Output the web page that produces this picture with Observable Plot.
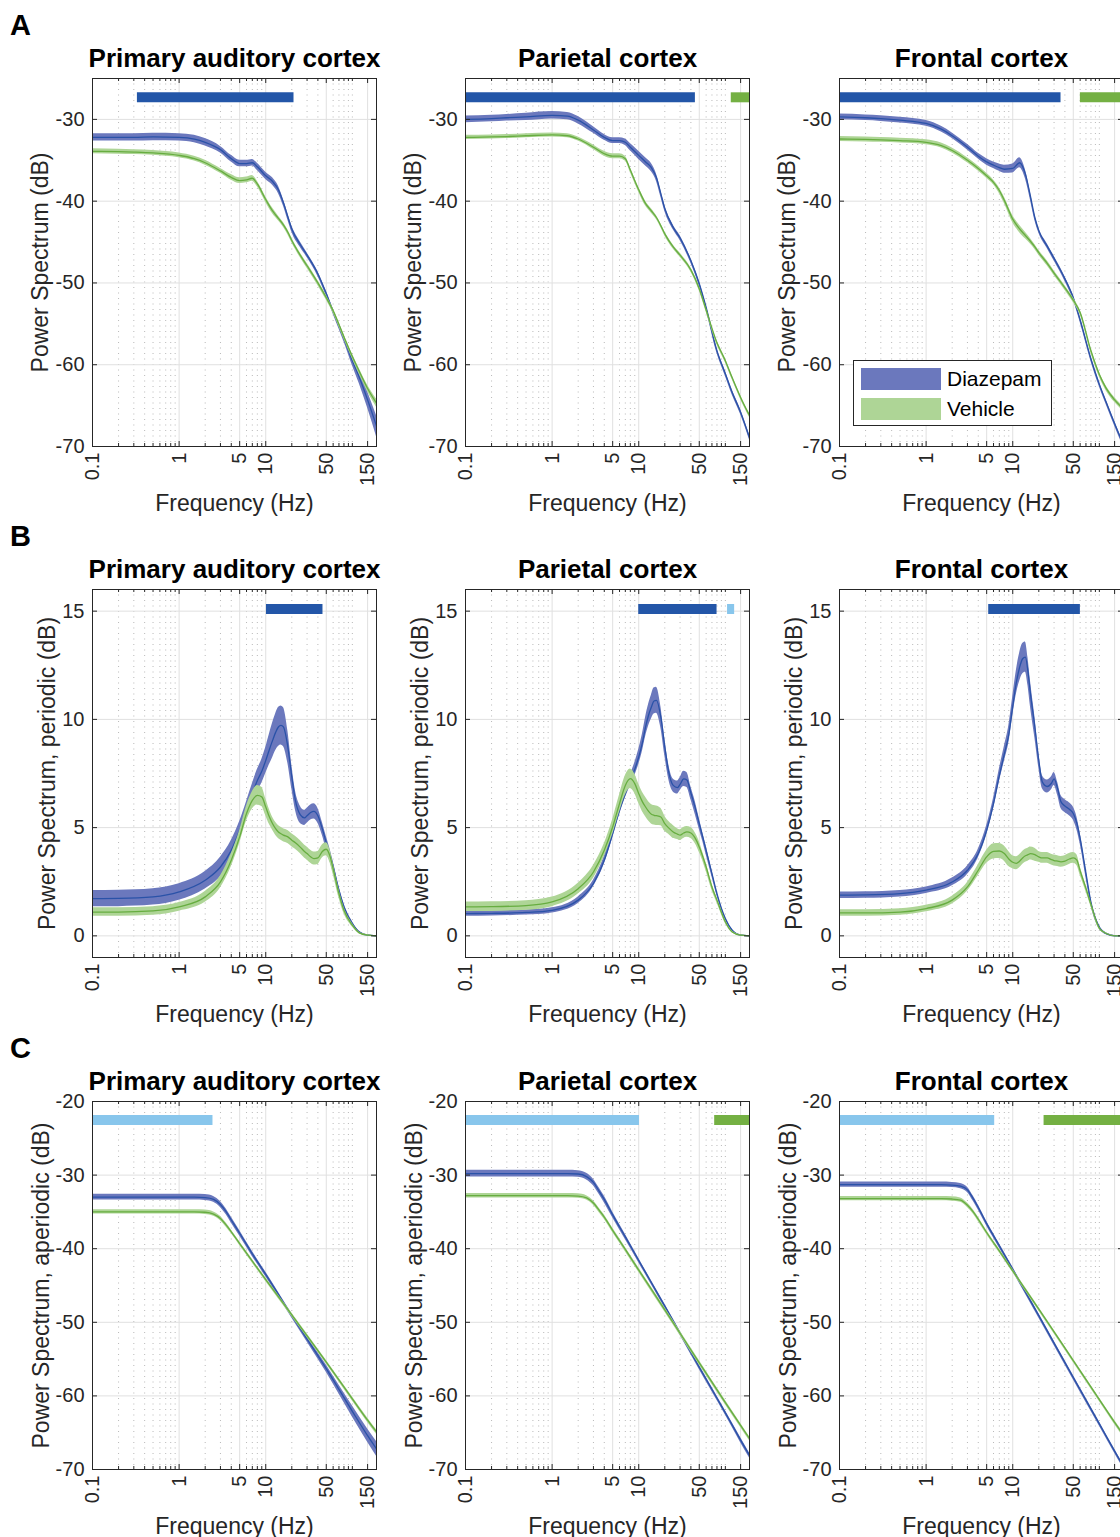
<!DOCTYPE html>
<html>
<head>
<meta charset="utf-8">
<script src="https://cdn.jsdelivr.net/npm/d3@7"></script>
<script src="https://cdn.jsdelivr.net/npm/@observablehq/plot@0.6"></script>
<style>
  body { margin: 0; background: #fff; }
  #root { position: relative; width: 1120px; height: 1537px; overflow: hidden; background: #fff;
          font-family: "Liberation Sans", Arial, Helvetica, sans-serif; color: #262626; }
  .panel { position: absolute; }
  .letter { position: absolute; font-weight: bold; font-size: 29px; line-height: 29px; color: #000; }
  .legend { position: absolute; background: #fff; border: 1px solid #262626; box-sizing: border-box; }
  .legend .patch { position: absolute; width: 80px; height: 22px; }
  .legend .lab { position: absolute; font-size: 21px; line-height: 22px; color: #000; }
</style>
</head>
<body>
<div id="root"></div>
<script>
// ---------- tick / category arrays ----------
const regions = ["Primary auditory cortex", "Parietal cortex", "Frontal cortex"];
const groups = ["Diazepam", "Vehicle"];
const xTicks = [0.1, 1, 5, 10, 50, 150];
const xTickLabels = ["0.1", "1", "5", "10", "50", "150"];
const xMinor = [0.2, 0.3, 0.4, 0.5, 0.6, 0.7, 0.8, 0.9, 2, 3, 4, 6, 7, 8, 9, 20, 30, 40, 60, 70, 80, 90, 100];
const yTicksTotal = [-70, -60, -50, -40, -30];
const yTicksPeriodic = [0, 5, 10, 15];
const yTicksAperiodic = [-70, -60, -50, -40, -30, -20];

// ---------- row A: total power spectrum ----------
const freqA = [0.1, 0.2, 0.3, 0.5, 1, 1.5, 2, 3, 4, 5, 6, 7, 8, 10, 12, 14, 16, 18, 20, 25, 30, 40, 50, 60, 80, 100, 120, 150, 190];
const audTotDiaz = [-32.2, -32.2, -32.2, -32.15, -32.2, -32.4, -32.8, -33.7, -34.8, -35.4, -35.4, -35.3, -35.8, -36.9, -37.6, -38.6, -40.2, -41.9, -43.4, -45.3, -46.6, -48.9, -51.3, -53.5, -56.8, -59.5, -61.5, -64.3, -67.5];
const audTotDiazSem = [0.45, 0.45, 0.45, 0.45, 0.45, 0.45, 0.45, 0.4, 0.4, 0.4, 0.4, 0.4, 0.45, 0.45, 0.45, 0.45, 0.4, 0.4, 0.4, 0.35, 0.3, 0.3, 0.3, 0.3, 0.4, 0.6, 0.8, 1.0, 1.3];
const audTotVeh = [-33.9, -33.95, -34.0, -34.1, -34.4, -34.8, -35.3, -36.3, -37.1, -37.5, -37.4, -37.2, -37.9, -39.8, -41.2, -42.1, -42.9, -43.8, -44.8, -46.6, -47.9, -50.0, -51.8, -53.4, -56.6, -59.0, -60.8, -62.9, -64.7];
const audTotVehSem = [0.3, 0.3, 0.3, 0.3, 0.3, 0.3, 0.3, 0.3, 0.35, 0.35, 0.35, 0.35, 0.35, 0.35, 0.35, 0.3, 0.3, 0.3, 0.3, 0.3, 0.3, 0.3, 0.3, 0.3, 0.3, 0.3, 0.35, 0.4, 0.5];
const parTotDiaz = [-30.0, -29.9, -29.8, -29.7, -29.5, -29.6, -30.1, -31.3, -32.2, -32.6, -32.6, -32.8, -33.4, -34.4, -35.2, -35.9, -37.1, -39.1, -40.9, -43.2, -44.5, -47.3, -50.1, -53.0, -58.3, -61.1, -63.4, -65.8, -68.9];
const parTotDiazSem = [0.4, 0.4, 0.4, 0.45, 0.45, 0.45, 0.45, 0.4, 0.35, 0.35, 0.35, 0.4, 0.45, 0.5, 0.5, 0.5, 0.45, 0.4, 0.35, 0.3, 0.3, 0.3, 0.3, 0.3, 0.3, 0.3, 0.3, 0.3, 0.3];
const parTotVeh = [-32.2, -32.15, -32.1, -32.0, -31.9, -32.0, -32.4, -33.4, -34.2, -34.5, -34.5, -34.8, -36.2, -38.6, -40.3, -41.2, -42.0, -43.0, -44.0, -45.6, -46.6, -48.4, -50.7, -53.3, -57.3, -59.5, -61.6, -64.0, -66.2];
const parTotVehSem = [0.25, 0.25, 0.25, 0.25, 0.25, 0.25, 0.25, 0.28, 0.3, 0.3, 0.3, 0.3, 0.3, 0.3, 0.3, 0.28, 0.25, 0.25, 0.25, 0.25, 0.25, 0.25, 0.25, 0.25, 0.25, 0.25, 0.25, 0.25, 0.25];
const froTotDiaz = [-29.7, -29.8, -29.9, -30.1, -30.5, -31.2, -32.0, -33.4, -34.5, -35.2, -35.6, -35.9, -36.1, -36.0, -35.3, -36.7, -39.4, -42.0, -43.6, -45.5, -47.0, -49.5, -51.8, -54.5, -59.3, -62.4, -64.6, -67.2, -69.8];
const froTotDiazSem = [0.35, 0.35, 0.35, 0.35, 0.35, 0.35, 0.35, 0.35, 0.35, 0.4, 0.4, 0.45, 0.5, 0.55, 0.6, 0.55, 0.45, 0.35, 0.3, 0.3, 0.3, 0.3, 0.3, 0.3, 0.3, 0.3, 0.3, 0.3, 0.3];
const froTotVeh = [-32.4, -32.45, -32.5, -32.6, -32.8, -33.2, -33.8, -35.0, -36.0, -36.9, -37.7, -38.7, -39.9, -42.2, -43.4, -44.2, -44.9, -45.6, -46.3, -47.6, -48.8, -50.6, -52.1, -53.6, -58.3, -61.2, -62.9, -64.3, -65.4];
const froTotVehSem = [0.3, 0.3, 0.3, 0.3, 0.3, 0.3, 0.3, 0.3, 0.3, 0.3, 0.3, 0.35, 0.4, 0.45, 0.45, 0.4, 0.35, 0.3, 0.3, 0.3, 0.3, 0.3, 0.3, 0.3, 0.3, 0.3, 0.3, 0.3, 0.3];

// ---------- row B: periodic component ----------
const freqB = [0.1, 0.2, 0.5, 1, 2, 3, 4, 5, 6, 7, 8, 9, 10, 11, 12, 13, 14, 15, 16, 18, 20, 22, 25, 28, 30, 33, 36, 40, 45, 50, 55, 60, 70, 80, 100, 120, 150, 190];
const audPerDiaz = [1.72, 1.73, 1.8, 2.03, 2.57, 3.18, 3.95, 4.88, 5.8, 6.57, 7.18, 7.6, 8.1, 8.6, 9.03, 9.4, 9.65, 9.72, 9.65, 8.72, 7.34, 6.26, 5.6, 5.45, 5.55, 5.7, 5.75, 5.55, 4.95, 4.3, 3.75, 3.2, 2.1, 1.34, 0.57, 0.18, 0.03, 0];
const audPerDiazSem = [0.38, 0.38, 0.38, 0.38, 0.4, 0.45, 0.45, 0.4, 0.4, 0.45, 0.5, 0.55, 0.6, 0.7, 0.8, 0.85, 0.9, 0.9, 0.9, 0.75, 0.55, 0.45, 0.4, 0.35, 0.35, 0.35, 0.35, 0.35, 0.3, 0.3, 0.28, 0.25, 0.2, 0.15, 0.08, 0.04, 0.02, 0];
const audPerVeh = [1.1, 1.1, 1.15, 1.34, 1.8, 2.49, 3.49, 4.57, 5.65, 6.26, 6.49, 6.42, 5.95, 5.5, 5.18, 4.95, 4.8, 4.72, 4.65, 4.57, 4.42, 4.3, 4.1, 3.9, 3.8, 3.65, 3.57, 3.6, 3.9, 4.0, 3.7, 3.1, 1.95, 1.18, 0.49, 0.14, 0.03, 0];
const audPerVehSem = [0.2, 0.2, 0.2, 0.2, 0.25, 0.28, 0.3, 0.3, 0.35, 0.4, 0.45, 0.45, 0.4, 0.35, 0.3, 0.3, 0.3, 0.3, 0.3, 0.3, 0.3, 0.3, 0.3, 0.3, 0.3, 0.3, 0.3, 0.3, 0.3, 0.3, 0.3, 0.25, 0.2, 0.15, 0.08, 0.04, 0.02, 0];
const parPerDiaz = [1.03, 1.04, 1.08, 1.18, 1.65, 2.42, 3.49, 4.72, 5.8, 6.57, 7.18, 7.7, 8.26, 8.9, 9.65, 10.2, 10.57, 10.85, 10.88, 10.1, 8.72, 7.65, 6.95, 6.85, 7.0, 7.25, 7.2, 6.6, 5.9, 5.18, 4.55, 3.95, 2.88, 1.95, 0.8, 0.26, 0.03, 0];
const parPerDiazSem = [0.12, 0.12, 0.12, 0.12, 0.15, 0.15, 0.18, 0.2, 0.2, 0.2, 0.25, 0.3, 0.35, 0.4, 0.45, 0.5, 0.55, 0.6, 0.6, 0.5, 0.4, 0.35, 0.3, 0.3, 0.3, 0.35, 0.35, 0.3, 0.3, 0.25, 0.2, 0.2, 0.15, 0.1, 0.06, 0.03, 0.02, 0];
const parPerVeh = [1.34, 1.35, 1.4, 1.57, 2.18, 2.95, 3.95, 5.03, 6.11, 6.95, 7.26, 7.03, 6.57, 6.2, 5.95, 5.75, 5.62, 5.57, 5.55, 5.49, 5.18, 5.0, 4.8, 4.7, 4.65, 4.75, 4.8, 4.75, 4.5, 4.11, 3.65, 3.18, 2.26, 1.65, 0.65, 0.18, 0.03, 0];
const parPerVehSem = [0.22, 0.22, 0.22, 0.22, 0.25, 0.3, 0.3, 0.35, 0.4, 0.45, 0.45, 0.45, 0.45, 0.45, 0.45, 0.45, 0.45, 0.45, 0.45, 0.4, 0.35, 0.3, 0.3, 0.25, 0.25, 0.25, 0.25, 0.25, 0.25, 0.25, 0.2, 0.2, 0.15, 0.12, 0.08, 0.04, 0.02, 0];
const froPerDiaz = [1.88, 1.89, 1.95, 2.11, 2.49, 3.03, 3.8, 4.88, 6.11, 7.4, 8.4, 9.3, 10.6, 11.7, 12.4, 12.8, 12.88, 12.2, 11.2, 9.65, 8.1, 7.1, 6.9, 7.05, 7.25, 6.8, 6.2, 6.0, 5.85, 5.65, 5.2, 4.5, 2.9, 1.55, 0.4, 0.1, 0, 0];
const froPerDiazSem = [0.15, 0.15, 0.15, 0.15, 0.18, 0.2, 0.2, 0.22, 0.25, 0.3, 0.35, 0.4, 0.45, 0.55, 0.65, 0.7, 0.7, 0.65, 0.6, 0.5, 0.35, 0.3, 0.3, 0.3, 0.3, 0.3, 0.3, 0.3, 0.3, 0.3, 0.3, 0.25, 0.2, 0.15, 0.08, 0.04, 0.02, 0];
const froPerVeh = [1.06, 1.06, 1.1, 1.26, 1.65, 2.26, 3.03, 3.65, 3.9, 3.92, 3.8, 3.55, 3.4, 3.35, 3.45, 3.6, 3.7, 3.75, 3.8, 3.75, 3.65, 3.6, 3.6, 3.52, 3.48, 3.45, 3.42, 3.45, 3.55, 3.6, 3.5, 3.0, 2.2, 1.45, 0.35, 0.11, 0, 0];
const froPerVehSem = [0.15, 0.15, 0.15, 0.15, 0.18, 0.2, 0.25, 0.3, 0.35, 0.35, 0.35, 0.35, 0.3, 0.3, 0.3, 0.3, 0.3, 0.3, 0.3, 0.3, 0.25, 0.25, 0.25, 0.25, 0.25, 0.25, 0.25, 0.25, 0.25, 0.25, 0.25, 0.2, 0.15, 0.1, 0.05, 0.03, 0.01, 0];

// ---------- row C: aperiodic component ----------
const freqC = [0.1, 0.5, 1, 1.5, 2, 2.5, 3, 3.5, 4, 5, 7, 10, 20, 50, 100, 150, 190];
const audApDiaz = [-33.0, -33.0, -33.0, -33.0, -33.05, -33.3, -34.0, -35.0, -36.1, -37.9, -40.7, -43.5, -49.1, -56.3, -62.1, -65.4, -67.2];
const audApDiazSem = [0.4, 0.4, 0.4, 0.4, 0.4, 0.4, 0.4, 0.4, 0.4, 0.38, 0.35, 0.32, 0.3, 0.5, 0.75, 0.9, 1.0];
const audApVeh = [-35.0, -35.0, -35.0, -35.0, -35.05, -35.3, -35.9, -36.8, -37.7, -39.3, -41.7, -44.2, -49.0, -55.4, -60.4, -63.3, -64.9];
const audApVehSem = [0.3, 0.3, 0.3, 0.3, 0.3, 0.3, 0.3, 0.28, 0.25, 0.25, 0.25, 0.25, 0.25, 0.25, 0.28, 0.3, 0.3];
const parApDiaz = [-29.8, -29.8, -29.8, -29.8, -29.85, -30.2, -31.0, -32.2, -33.3, -35.4, -38.4, -41.6, -47.8, -56.1, -62.3, -66.0, -68.1];
const parApDiazSem = [0.45, 0.45, 0.45, 0.45, 0.45, 0.45, 0.45, 0.45, 0.45, 0.4, 0.35, 0.3, 0.3, 0.3, 0.3, 0.35, 0.35];
const parApVeh = [-32.8, -32.8, -32.8, -32.8, -32.85, -33.1, -33.8, -34.8, -35.7, -37.5, -40.1, -42.9, -48.3, -55.5, -60.9, -64.0, -65.8];
const parApVehSem = [0.3, 0.3, 0.3, 0.3, 0.3, 0.3, 0.3, 0.3, 0.3, 0.3, 0.3, 0.3, 0.3, 0.3, 0.3, 0.3, 0.3];
const froApDiaz = [-31.3, -31.3, -31.3, -31.3, -31.35, -31.5, -32.0, -33.2, -34.4, -36.6, -39.6, -42.8, -49.1, -57.5, -63.8, -67.5, -69.6];
const froApDiazSem = [0.35, 0.35, 0.35, 0.35, 0.35, 0.35, 0.35, 0.35, 0.35, 0.33, 0.3, 0.3, 0.3, 0.3, 0.3, 0.3, 0.3];
const froApVeh = [-33.2, -33.2, -33.2, -33.2, -33.25, -33.4, -34.1, -35.0, -36.0, -37.8, -40.3, -43.0, -48.2, -55.2, -60.5, -63.6, -65.3];
const froApVehSem = [0.3, 0.3, 0.3, 0.3, 0.3, 0.3, 0.3, 0.3, 0.3, 0.28, 0.25, 0.25, 0.25, 0.25, 0.25, 0.28, 0.3];

// ---------- significance bars: [from Hz, to Hz, effect] ----------
const sigAudTot = [[0.33, 21.2, "Diazepam"]];
const sigParTot = [[0.1, 45.1, "Diazepam"], [117, 190, "Vehicle"]];
const sigFroTot = [[0.1, 36.1, "Diazepam"], [60.4, 190, "Vehicle"]];
const sigAudPer = [[10.2, 45.8, "Diazepam"]];
const sigParPer = [[10.0, 80.2, "Diazepam"], [106, 128, "Both"]];
const sigFroPer = [[5.28, 60.4, "Diazepam"]];
const sigAudAp = [[0.1, 2.46, "Both"]];
const sigParAp = [[0.1, 10.2, "Both"], [75.3, 190, "Vehicle"]];
const sigFroAp = [[0.1, 6.19, "Both"], [23.0, 190, "Vehicle"]];

// ---------- styling ----------
const COL = {
  diazLine: "#2a52a8", diazBand: "#6b78bd",
  vehLine: "#67ad40", vehBand: "#aed596",
  sig: { Diazepam: "#2356a8", Vehicle: "#74b043", Both: "#88c6ec" },
  axis: "#262626", grid: "#e0e0e0", minor: "#b8b8b8"
};
const FONT = "'Liberation Sans', Arial, Helvetica, sans-serif";
const W = 284, H = 368, ML = 72, MR = 14, MT = 50, MB = 80;
const colLeft = [92, 465, 839];
const rowTop = [78, 589, 1101];
const rows = [
  { yDomain: [-70, -25], yTicks: yTicksTotal, ylabel: "Power Spectrum (dB)", sigLevel: -27.3, labelDx: -52 },
  { yDomain: [-1, 16], yTicks: yTicksPeriodic, ylabel: "Power Spectrum, periodic (dB)", sigLevel: 15.1, labelDx: -45 },
  { yDomain: [-70, -20], yTicks: yTicksAperiodic, ylabel: "Power Spectrum, aperiodic (dB)", sigLevel: -22.5, labelDx: -51 }
];
const panels = [
  [0, 0, freqA, audTotDiaz, audTotDiazSem, audTotVeh, audTotVehSem, sigAudTot],
  [0, 1, freqA, parTotDiaz, parTotDiazSem, parTotVeh, parTotVehSem, sigParTot],
  [0, 2, freqA, froTotDiaz, froTotDiazSem, froTotVeh, froTotVehSem, sigFroTot],
  [1, 0, freqB, audPerDiaz, audPerDiazSem, audPerVeh, audPerVehSem, sigAudPer],
  [1, 1, freqB, parPerDiaz, parPerDiazSem, parPerVeh, parPerVehSem, sigParPer],
  [1, 2, freqB, froPerDiaz, froPerDiazSem, froPerVeh, froPerVehSem, sigFroPer],
  [2, 0, freqC, audApDiaz, audApDiazSem, audApVeh, audApVehSem, sigAudAp],
  [2, 1, freqC, parApDiaz, parApDiazSem, parApVeh, parApVehSem, sigParAp],
  [2, 2, freqC, froApDiaz, froApDiazSem, froApVeh, froApVehSem, sigFroAp]
];

const root = document.getElementById("root");

function makePanel([row, col, freq, dMean, dSem, vMean, vSem, sig]) {
  const cfg = rows[row];
  const dData = freq.map((f, i) => ({ f, m: dMean[i], lo: dMean[i] - dSem[i], hi: dMean[i] + dSem[i] }));
  const vData = freq.map((f, i) => ({ f, m: vMean[i], lo: vMean[i] - vSem[i], hi: vMean[i] + vSem[i] }));
  const marks = [
    Plot.ruleX(xMinor, { x: d => d, stroke: COL.minor, strokeDasharray: "1,4.5", strokeWidth: 1 }),
    Plot.ruleX(xTicks, { x: d => d, stroke: COL.grid }),
    Plot.ruleY(cfg.yTicks, { y: d => d, stroke: COL.grid }),
    Plot.areaY(dData, { x: "f", y1: "lo", y2: "hi", fill: COL.diazBand, curve: "monotone-x", clip: true }),
    Plot.lineY(dData, { x: "f", y: "m", stroke: COL.diazLine, strokeWidth: 1.3, curve: "monotone-x", clip: true }),
    Plot.areaY(vData, { x: "f", y1: "lo", y2: "hi", fill: COL.vehBand, curve: "monotone-x", clip: true }),
    Plot.lineY(vData, { x: "f", y: "m", stroke: COL.vehLine, strokeWidth: 1.3, curve: "monotone-x", clip: true }),
    ...sig.map(s => Plot.ruleY([s], { y: () => cfg.sigLevel, x1: d => d[0], x2: d => d[1], stroke: COL.sig[s[2]], strokeWidth: 10, clip: true })),
    Plot.frame({ stroke: COL.axis, strokeWidth: 1 }),
    // inward ticks (MATLAB style, box on)
    Plot.tickX(xTicks, { x: d => d, stroke: COL.axis, insetTop: H - 5 }),
    Plot.tickX(xTicks, { x: d => d, stroke: COL.axis, insetBottom: H - 5 }),
    Plot.tickX(xMinor, { x: d => d, stroke: COL.axis, insetTop: H - 3 }),
    Plot.tickX(xMinor, { x: d => d, stroke: COL.axis, insetBottom: H - 3 }),
    Plot.tickY(cfg.yTicks, { y: d => d, stroke: COL.axis, insetRight: W - 5 }),
    Plot.tickY(cfg.yTicks, { y: d => d, stroke: COL.axis, insetLeft: W - 5 }),
    // x tick labels (rotated, MATLAB style)
    Plot.text(xTicks, { x: d => d, text: (d, i) => xTickLabels[i], frameAnchor: "bottom", dy: 6, rotate: -90,
                        textAnchor: "end", lineAnchor: "middle", fontSize: 20 }),
    Plot.axisY(cfg.yTicks, { anchor: "left", tickSize: 0, tickPadding: 8, tickFormat: d => String(d), fontSize: 20, label: null }),
    Plot.text([regions[col]], { text: d => d, frameAnchor: "top", dy: -11.5, lineAnchor: "bottom", textAnchor: "middle", fontSize: 26, fontWeight: "bold", fill: "#000" }),
    Plot.text(["Frequency (Hz)"], { text: d => d, frameAnchor: "bottom", dy: 64, lineAnchor: "bottom", textAnchor: "middle", fontSize: 23 }),
    Plot.text([cfg.ylabel], { text: d => d, frameAnchor: "left", dx: cfg.labelDx, rotate: -90, textAnchor: "middle", lineAnchor: "middle", fontSize: 23 })
  ];
  const svg = Plot.plot({
    width: ML + W + MR, height: MT + H + MB,
    marginLeft: ML, marginRight: MR, marginTop: MT, marginBottom: MB,
    x: { type: "log", domain: [0.1, 190], axis: null },
    y: { domain: cfg.yDomain },
    style: { fontFamily: FONT, fontSize: "20px", color: COL.axis, background: "transparent", overflow: "visible" },
    marks
  });
  const div = document.createElement("div");
  div.className = "panel";
  div.style.left = (colLeft[col] - ML) + "px";
  div.style.top = (rowTop[row] - MT) + "px";
  div.style.width = (ML + W + MR) + "px";
  div.appendChild(svg);
  root.appendChild(div);
}
panels.forEach(makePanel);

// panel letters
[["A", 10, 11], ["B", 10, 522], ["C", 10, 1034]].forEach(([t, x, y]) => {
  const d = document.createElement("div");
  d.className = "letter"; d.textContent = t;
  d.style.left = x + "px"; d.style.top = y + "px";
  root.appendChild(d);
});

// legend (inside frontal total-spectrum panel)
const leg = document.createElement("div");
leg.className = "legend";
Object.assign(leg.style, { left: "853px", top: "360px", width: "199px", height: "66px" });
[[groups[0], COL.diazBand, 7], [groups[1], COL.vehBand, 37]].forEach(([name, c, t]) => {
  const p = document.createElement("div");
  p.className = "patch"; p.style.background = c; p.style.left = "7px"; p.style.top = t + "px";
  leg.appendChild(p);
  const l = document.createElement("div");
  l.className = "lab"; l.textContent = name; l.style.left = "93px"; l.style.top = t + "px";
  leg.appendChild(l);
});
root.appendChild(leg);
</script>
</body>
</html>
